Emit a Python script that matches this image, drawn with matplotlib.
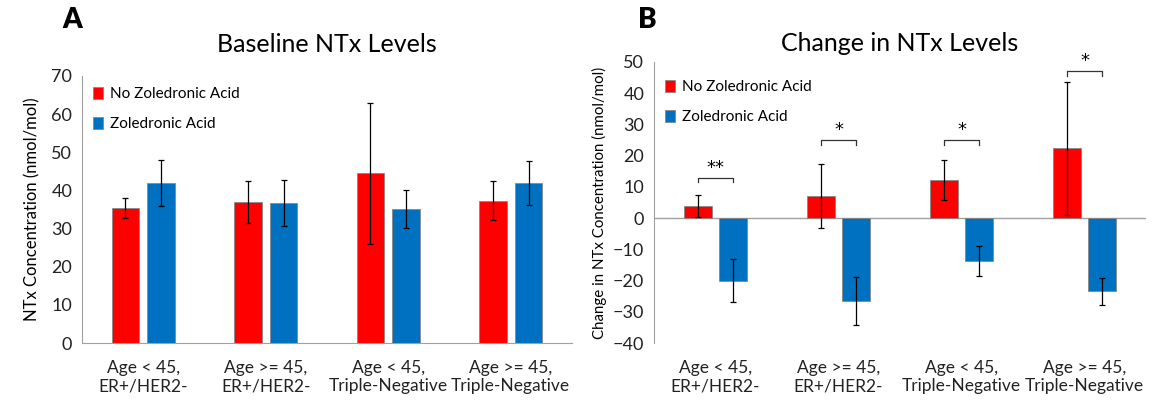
import matplotlib
matplotlib.use("Agg")
import matplotlib.pyplot as plt
import numpy as np

plt.rcParams['font.family'] = ['Lato', 'DejaVu Sans']

categories = ["Age < 45,\nER+/HER2-", "Age >= 45,\nER+/HER2-",
              "Age < 45,\nTriple-Negative", "Age >= 45,\nTriple-Negative"]
series_names = ["No Zoledronic Acid", "Zoledronic Acid"]

# Panel A: baseline
base_no = [35.5, 37.0, 44.5, 37.3]
base_no_err = [2.6, 5.5, 18.5, 5.1]
base_za = [42.0, 36.8, 35.2, 42.0]
base_za_err = [6.0, 6.0, 5.0, 5.7]

# Panel B: change
chg_no = [3.8, 7.0, 12.3, 22.3]
chg_no_err = [3.5, 10.2, 6.4, 21.3]
chg_za = [-20.0, -26.5, -13.8, -23.5]
chg_za_err = [7.0, 7.7, 4.9, 4.2]
sig_labels = ["**", "*", "*", "*"]
sig_heights = [13.0, 25.0, 25.0, 47.0]

RED = "#FF0000"
BLUE = "#0070C0"
W, H = 1157, 411
fig = plt.figure(figsize=(W / 100, H / 100), dpi=100)

def px_axes(l, r, t, b):
    return fig.add_axes([l / W, (H - b) / H, (r - l) / W, (b - t) / H])

x = np.arange(len(categories))
bw = 0.225
off = 0.145
ekw = dict(ecolor='black', elinewidth=0.9, capsize=2, capthick=0.9)

def style(ax):
    for s in ['top', 'right']:
        ax.spines[s].set_visible(False)
    ax.spines['left'].set_color('#A0A0A0')
    ax.spines['bottom'].set_color('#A0A0A0')
    ax.tick_params(length=0, labelsize=13, colors='#222222')
    ax.tick_params(axis='y', pad=7)
    ax.tick_params(axis='x', pad=12)
    ax.set_xlim(-0.5, 3.5)
    ax.set_xticks(x)
    ax.set_xticklabels(categories, fontsize=12.5)

# Panel A
axA = px_axes(82, 572, 76, 343)
axA.bar(x - off, base_no, bw, yerr=base_no_err, color=RED, edgecolor='#888888',
        linewidth=0.6, error_kw=ekw, label=series_names[0])
axA.bar(x + off, base_za, bw, yerr=base_za_err, color=BLUE, edgecolor='#888888',
        linewidth=0.6, error_kw=ekw, label=series_names[1])
axA.set_ylim(0, 70)
axA.set_yticks(range(0, 71, 10))
style(axA)
axA.set_ylabel("NTx Concentration (nmol/mol)", fontsize=12, labelpad=8)
axA.set_title("Baseline NTx Levels", fontsize=18, pad=17)
axA.legend(loc='upper left', bbox_to_anchor=(0.0, 1.0), frameon=False, fontsize=11,
           handlelength=0.7, handleheight=0.9, handletextpad=0.4, labelspacing=1.0,
           borderaxespad=0.3)
fig.text(62 / W, 1 - 20 / H, "A", fontsize=20, fontweight='heavy', va='center', ha='left')

# Panel B
axB = px_axes(654, 1146, 62, 343)
axB.bar(x - off, chg_no, bw, yerr=chg_no_err, color=RED, edgecolor='#888888',
        linewidth=0.6, error_kw=ekw, label=series_names[0])
axB.bar(x + off, chg_za, bw, yerr=chg_za_err, color=BLUE, edgecolor='#888888',
        linewidth=0.6, error_kw=ekw, label=series_names[1])
axB.set_ylim(-40, 50)
axB.set_yticks(range(-40, 51, 10))
style(axB)
axB.spines['bottom'].set_visible(False)
axB.axhline(0, color='#A0A0A0', linewidth=1.0, zorder=0.5)
axB.set_ylabel("Change in NTx Concentration (nmol/mol)", fontsize=10.8, labelpad=4)
axB.set_title("Change in NTx Levels", fontsize=18, pad=8)
axB.legend(loc='upper left', bbox_to_anchor=(0.0, 0.975), frameon=False, fontsize=11,
           handlelength=0.7, handleheight=0.9, handletextpad=0.4, labelspacing=1.0,
           borderaxespad=0.3)
for i, (lab, h) in enumerate(zip(sig_labels, sig_heights)):
    x0, x1 = i - off, i + off
    axB.plot([x0, x0, x1, x1], [h - 1.5, h, h, h - 1.5], color='#333333', linewidth=0.9)
    axB.text(i, h + 0.3, lab, ha='center', va='bottom', fontsize=13,
             family='DejaVu Sans')
fig.text(638 / W, 1 - 20 / H, "B", fontsize=20, fontweight='heavy', va='center', ha='left')

fig.savefig("out.png", dpi=100)
